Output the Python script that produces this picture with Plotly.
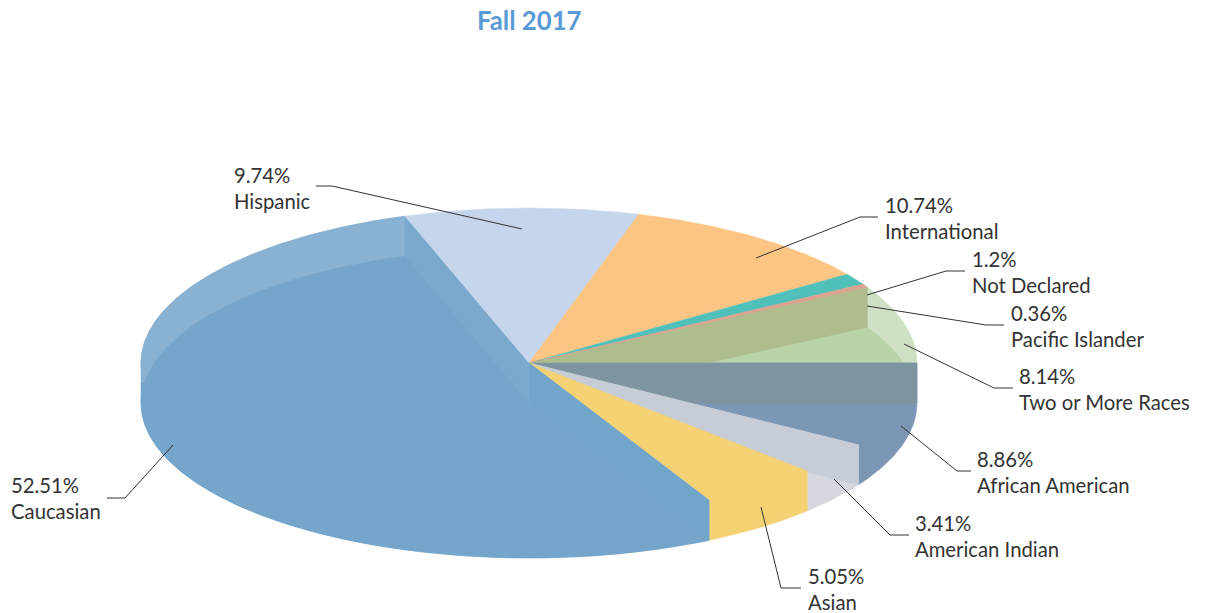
import numpy as np
import plotly.graph_objects as go

# ---- data (clockwise from 3 o'clock) ----
categories = ["African American", "American Indian", "Asian", "Caucasian", "Hispanic",
              "International", "Not Declared", "Pacific Islander", "Two or More Races"]
values = [8.86, 3.41, 5.05, 52.51, 9.74, 10.74, 1.2, 0.36, 8.14]
value_labels = ["8.86%", "3.41%", "5.05%", "52.51%", "9.74%", "10.74%", "1.2%", "0.36%", "8.14%"]
title_text = "Fall 2017"

# ---- geometry & style ----
CX, CY, RX, RY, DEPTH = 529.0, 363.0, 388.0, 155.0, 40.0
FONT = "Lato"
top_colors = ["#7C97B3", "#C6CDD6", "#F4D172", "#75A5CB", "#C5D6EC",
              "#FCC583", "#4FC1BA", "#D9A38F", "#CFE1C4"]
BAND_AI = "#D5D9DF"
GREEN_INNER = "#B9D3A9"
OLIVE = "#AFBC8E"
SLATE = "#7E94A0"
BLUE_RIM = "#88B1D2"
BLUE_WALL_BACK = "#7BA9CE"
BLUE_WALL_FRONT = "#72A5CA"

# leader-line layout: slice -> (anchor, elbow, end, text x, text y)
label_layout = {
    "African American": ((901, 426), (957, 471), (971, 471), 975, 471.5),
    "American Indian": ((834, 479), (890, 535), (909, 535), 913, 535.5),
    "Asian": ((761, 507), (781, 588), (801, 588), 806, 588.5),
    "Caucasian": ((173, 445), (125, 498), (107, 498), 9, 498),
    "Hispanic": ((522, 229), (332, 186), (316, 186), 232, 188),
    "International": ((756, 258), (860, 217), (878, 217), 883, 217.5),
    "Not Declared": ((867, 295), (946, 271), (965, 271), 970, 272),
    "Pacific Islander": ((867, 306), (986, 325), (1004, 325), 1009, 326),
    "Two or More Races": ((904, 344), (994, 388), (1013, 388), 1017, 388.5),
}

fractions = np.array(values) / sum(values)
edges = np.concatenate([[0.0], np.cumsum(fractions)]) * 2 * np.pi


def rim(a0, a1, dz=0.0):
    t = np.linspace(a0, a1, max(int(abs(a1 - a0) * 120), 2))
    return CX + RX * np.cos(t), CY + dz + RY * np.sin(t)


def pt(a, dz=0.0):
    return CX + RX * np.cos(a), CY + dz + RY * np.sin(a)


fig = go.Figure()


def poly(x, y, color):
    fig.add_trace(go.Scatter(x=list(x), y=list(y), mode="lines", fill="toself", fillcolor=color,
                             line=dict(color=color, width=0.5), hoverinfo="skip", showlegend=False))


def wedge(i, color, dz=0.0):
    x, y = rim(edges[i], edges[i + 1], dz)
    poly([CX, *x, CX], [CY + dz, *y, CY + dz], color)


def solid(i, color):
    # top face and front side of a slice as one outline
    x, y = rim(edges[i], edges[i + 1], DEPTH)
    x0, y0 = pt(edges[i])
    x1, y1 = pt(edges[i + 1])
    poly([CX, x0, *x, x1, CX], [CY, y0, *y, y1, CY], color)


def band_between(a0, a1, color):
    x0, y0 = rim(a0, a1)
    x1, y1 = rim(a0, a1, DEPTH)
    poly([*x0, *x1[::-1]], [*y0, *y1[::-1]], color)


def band(i, color):
    band_between(edges[i], edges[i + 1], color)


def wall(a, color):
    x, y = pt(a)
    poly([CX, x, x, CX], [CY, y, y + DEPTH, CY + DEPTH], color)


AA, AI, AS, CA, HI, IN, ND, PI, TW = range(9)

# Two or More Races: back rim, inner floor
wedge(TW, top_colors[TW])
wedge(TW, GREEN_INNER, DEPTH)

# African American: top + side
solid(AA, top_colors[AA])

# Olive wall and slate slab at the 3 o'clock seam
wall(edges[PI + 1], OLIVE)
wall(edges[0], SLATE)

# American Indian
band(AI, BAND_AI)
wall(edges[AI], top_colors[AI])
wedge(AI, top_colors[AI])

# Asian
solid(AS, top_colors[AS])

# Caucasian: lighter back rim, darker floor and front side
wedge(CA, BLUE_RIM)
band_between(edges[CA], np.pi, top_colors[CA])
band_between(np.pi, edges[CA + 1], BLUE_RIM)
wedge(CA, top_colors[CA], DEPTH)
# left silhouette: the darker blue takes over half-way down the side
sx, sy = rim(np.pi, np.pi + np.arcsin(DEPTH / 2 / RY), DEPTH)
poly([*sx, CX - RX], [*sy, CY + DEPTH / 2], top_colors[CA])
wall(edges[CA], BLUE_WALL_FRONT)
wall(edges[CA + 1], BLUE_WALL_BACK)

# Back slices
for i in (HI, IN, ND, PI):
    wedge(i, top_colors[i])

# Leader lines and labels
annotations = []
for name, val in zip(categories, value_labels):
    a, b, c, tx, ty = label_layout[name]
    fig.add_trace(go.Scatter(x=[a[0], b[0], c[0]], y=[a[1], b[1], c[1]], mode="lines",
                             line=dict(color="#333333", width=1), hoverinfo="skip", showlegend=False))
    annotations.append(dict(x=tx, y=ty, xref="x", yref="y", xanchor="left", yanchor="middle",
                            text=f"{val}<br>{name}", showarrow=False, align="left",
                            font=dict(family=FONT, size=20.3, color="#333333")))
annotations.append(dict(x=CX, y=20, xref="x", yref="y", xanchor="center", yanchor="middle",
                        text=f"<b>{title_text}</b>", showarrow=False,
                        font=dict(family=FONT, size=25.7, color="#5B9BD5")))

fig.update_layout(
    width=1207, height=613, margin=dict(l=0, r=0, t=0, b=0),
    paper_bgcolor="white", plot_bgcolor="white",
    xaxis=dict(range=[0, 1207], visible=False, fixedrange=True),
    yaxis=dict(range=[613, 0], visible=False, fixedrange=True),
    annotations=annotations,
)
fig.write_html("out.html", config={"displayModeBar": False},
               post_script="document.body.style.margin='0';document.documentElement.style.overflow='hidden';")
